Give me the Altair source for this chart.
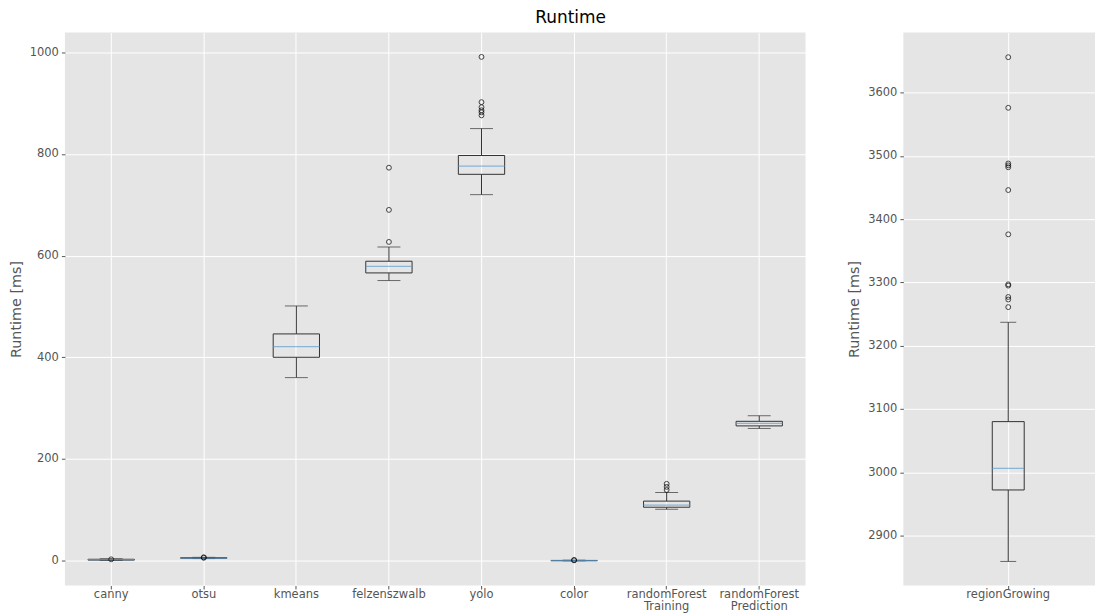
import altair as alt
import pandas as pd

# ---- data ----
categories = ["canny", "otsu", "kmeans", "felzenszwalb", "yolo", "color",
              "randomForest Training", "randomForest Prediction"]
whisker_low = [0.4, 4.0, 360, 551, 720, -0.5, 101, 260]
q1 = [1.0, 4.6, 400, 566, 760, -0.2, 105, 265]
median = [1.8, 5.0, 421, 579, 776, 0.0, 109, 270]
q3 = [2.6, 5.6, 446, 589, 797, 0.3, 117, 274]
whisker_high = [3.6, 6.4, 501, 617, 850, 0.8, 134, 285]

outlier_cat = ["canny", "otsu", "otsu", "felzenszwalb", "felzenszwalb", "felzenszwalb",
               "yolo", "yolo", "yolo", "yolo", "yolo", "yolo", "color", "color",
               "randomForest Training", "randomForest Training", "randomForest Training"]
outlier_val = [2.5, 5.5, 6.5, 627, 690, 773,
               876, 882, 886, 892, 902, 991, 0.5, 1.2,
               139, 145, 151]

rg_category = ["regionGrowing"]
rg_whisker_low = [2859]
rg_q1 = [2972]
rg_median = [3006]
rg_q3 = [3080]
rg_whisker_high = [3237]
rg_outliers = [3261, 3273, 3277, 3295, 3297, 3376, 3446, 3482, 3485, 3488, 3576, 3656]

left_ticks = [0, 200, 400, 600, 800, 1000]
right_ticks = [2900, 3000, 3100, 3200, 3300, 3400, 3500, 3600]

# ---- tables ----
stats = pd.DataFrame({"cat": categories, "lo": whisker_low, "q1": q1, "med": median,
                      "q3": q3, "hi": whisker_high})
outl = pd.DataFrame({"cat": outlier_cat, "v": outlier_val})
rg_stats = pd.DataFrame({"cat": rg_category, "lo": rg_whisker_low, "q1": rg_q1,
                         "med": rg_median, "q3": rg_q3, "hi": rg_whisker_high})
rg_outl = pd.DataFrame({"cat": rg_category * len(rg_outliers), "v": rg_outliers})

FONT = "DejaVu Sans"
EDGE = "#333333"
MED = "#5f9fd2"
GREY = "#555555"


def panel(st, ol, domain, ticks, width, cap, medw, xscale):
    x = alt.X("cat:N", sort=list(st["cat"]), scale=xscale,
              axis=alt.Axis(title=None, labelAngle=0, grid=True, gridColor="white",
                            gridWidth=1, bandPosition=0.5, domain=False,
                            tickColor=GREY, tickSize=3.5, labelColor=GREY,
                            labelFont=FONT, labelFontSize=11.5, labelPadding=0,
                            labelLineHeight=12, labelBaseline="top",
                            labelExpr="split(datum.label, ' ')"))
    yax = alt.Axis(title="Runtime [ms]", values=ticks, format="d", grid=True,
                   gridColor="white", gridWidth=1, domain=False, tickColor=GREY,
                   tickSize=3.5, labelColor=GREY, labelFont=FONT, labelFontSize=11.5,
                   labelPadding=3, titleFont=FONT, titleFontSize=14.4,
                   titleFontWeight="normal", titleColor=GREY, titlePadding=6)
    ys = alt.Scale(domain=domain, nice=False, zero=False)

    base = alt.Chart(st)
    w_lo = base.mark_rule(color=EDGE, strokeWidth=1).encode(
        x=x, y=alt.Y("lo:Q", scale=ys, axis=yax), y2="q1:Q")
    w_hi = base.mark_rule(color=EDGE, strokeWidth=1).encode(
        x=x, y=alt.Y("q3:Q", scale=ys, axis=yax), y2="hi:Q")
    box = base.mark_bar(fill="transparent", stroke=EDGE, strokeWidth=1,
                        width=alt.RelativeBandSize(0.5)).encode(
        x=x, y=alt.Y("q1:Q", scale=ys, axis=yax), y2="q3:Q")
    cap_lo = base.mark_tick(color=EDGE, size=cap, thickness=1).encode(
        x=x, y=alt.Y("lo:Q", scale=ys, axis=yax))
    cap_hi = base.mark_tick(color=EDGE, size=cap, thickness=1).encode(
        x=x, y=alt.Y("hi:Q", scale=ys, axis=yax))
    med = base.mark_tick(color=MED, size=medw, thickness=1.3).encode(
        x=x, y=alt.Y("med:Q", scale=ys, axis=yax))
    pts = alt.Chart(ol).mark_point(shape="circle", filled=False, color="black",
                                   size=24, strokeWidth=1).encode(
        x=x, y=alt.Y("v:Q", scale=ys, axis=yax))
    return alt.layer(w_lo, w_hi, box, cap_lo, cap_hi, med, pts).properties(
        width=width, height=554)


left = panel(stats, outl, [-49, 1039], left_ticks, 742, 23, 46.4,
             alt.Scale(paddingInner=0, paddingOuter=0))
right = panel(rg_stats, rg_outl, [2821, 3695], right_ticks, 192, 16, 32,
              alt.Scale(paddingInner=0, paddingOuter=1, align=0.571))

chart = alt.hconcat(left, right, spacing=41).properties(
    padding={"left": 0, "top": 0, "right": 0, "bottom": 0},
    title=alt.TitleParams("Runtime", font=FONT, fontSize=17, fontWeight="normal",
                          color="black", anchor="middle", dx=19, offset=6)
).configure_view(fill="#E5E5E5", strokeWidth=0)

chart.save("out.html", embed_options={"renderer": "svg", "actions": False})
